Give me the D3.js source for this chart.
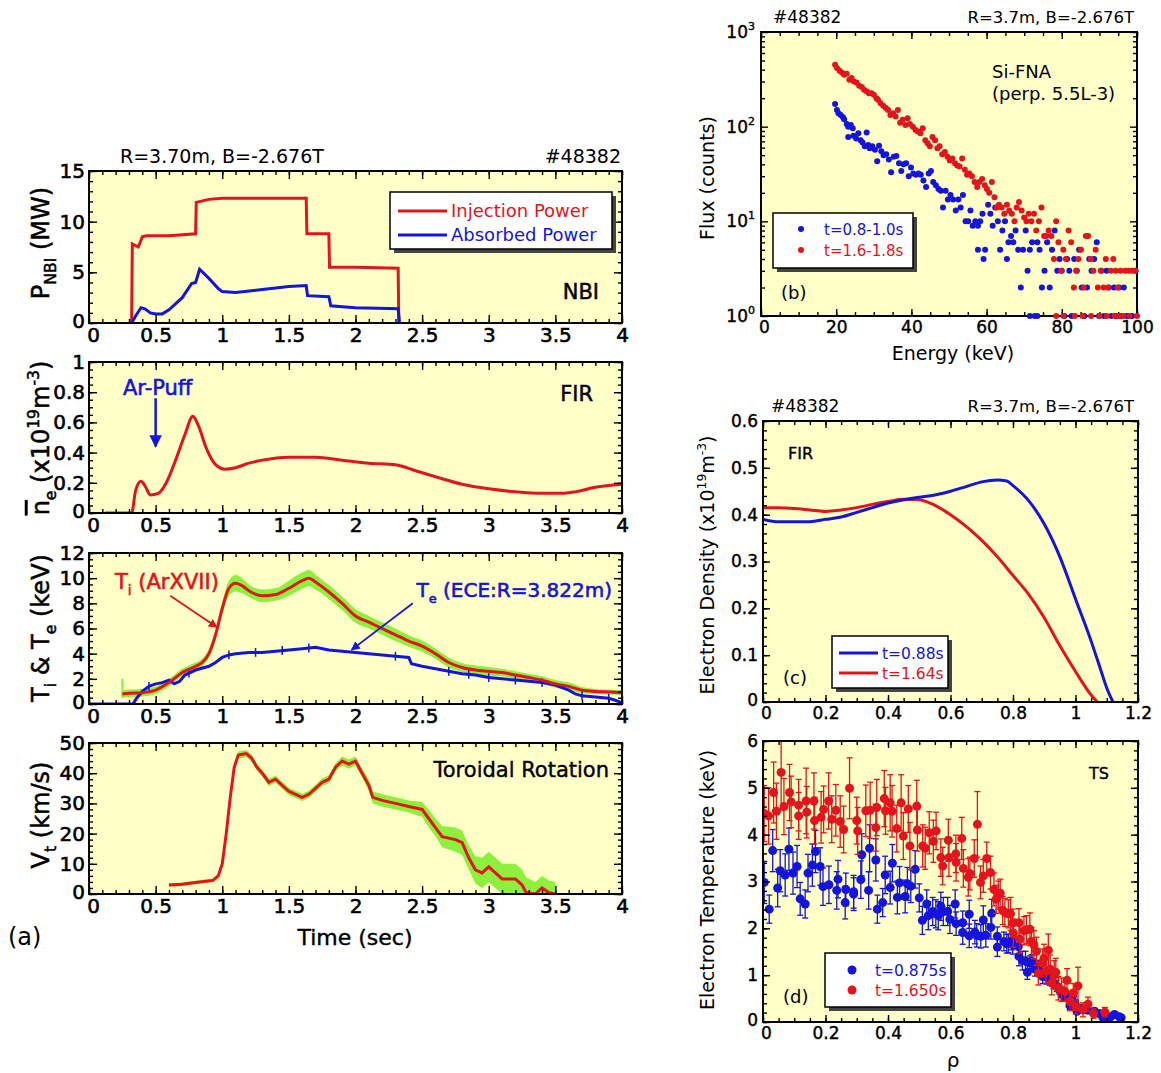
<!DOCTYPE html>
<html>
<head>
<meta charset="utf-8">
<script src="https://cdn.jsdelivr.net/npm/d3@7"></script>
<style>
body{margin:0;background:#fff;}
text{font-family:"DejaVu Sans",Verdana,sans-serif;}
</style>
</head>
<body>
<svg id="fig" width="1161" height="1073"></svg>
<script>
// ---- DATA ----
// (a) NBI power [time s, MW]
var injPower = [[0.32,0],[0.325,7.8],[0.37,7.5],[0.4,8.5],[0.43,8.6],[0.6,8.6],[0.8,8.8],[0.805,11.9],[0.9,12.2],[1.0,12.3],[1.63,12.3],[1.635,8.8],[1.8,8.8],[1.805,5.5],[2.0,5.5],[2.32,5.4],[2.325,0]];
var absPower = [[0.32,0],[0.35,0.7],[0.39,1.5],[0.42,1.4],[0.46,1.0],[0.5,0.9],[0.55,0.9],[0.6,1.3],[0.7,2.5],[0.77,3.9],[0.8,4.0],[0.83,5.3],[0.9,4.4],[0.97,3.4],[1.0,3.1],[1.1,3.0],[1.3,3.3],[1.5,3.6],[1.63,3.7],[1.64,2.7],[1.8,2.6],[1.815,1.7],[1.9,1.6],[2.0,1.5],[2.32,1.4],[2.33,0]];
// (a) line averaged density [time, 1e19 m^-3]
var neLine = [[0.12,0],[0.32,0],[0.35,0.15],[0.39,0.21],[0.42,0.18],[0.46,0.12],[0.52,0.13],[0.58,0.2],[0.65,0.35],[0.72,0.52],[0.78,0.64],[0.82,0.58],[0.88,0.43],[0.95,0.32],[1.02,0.29],[1.1,0.30],[1.2,0.33],[1.3,0.35],[1.5,0.37],[1.7,0.37],[1.9,0.35],[2.1,0.33],[2.3,0.32],[2.45,0.28],[2.6,0.24],[2.8,0.19],[3.0,0.16],[3.2,0.14],[3.4,0.13],[3.55,0.13],[3.65,0.14],[3.8,0.17],[4.0,0.19]];
// (a) Ti (ArXVII) [time, keV, error]
var tiArXVII = [[0.25,0.8,0.3],[0.3,0.85,0.3],[0.4,0.9,0.3],[0.5,1.1,0.3],[0.6,1.7,0.3],[0.7,2.5,0.3],[0.8,3.0,0.3],[0.85,3.3,0.3],[0.9,4.0,0.35],[0.95,5.5,0.4],[1.0,7.6,0.5],[1.05,9.2,0.6],[1.1,9.6,0.65],[1.15,9.4,0.6],[1.2,9.0,0.5],[1.3,8.6,0.5],[1.4,8.7,0.5],[1.5,9.2,0.6],[1.6,9.8,0.65],[1.65,10.0,0.65],[1.7,9.7,0.6],[1.8,8.9,0.55],[1.9,8.0,0.55],[2.0,7.0,0.55],[2.1,6.5,0.5],[2.2,6.0,0.5],[2.3,5.5,0.5],[2.4,5.0,0.45],[2.5,4.6,0.45],[2.6,4.0,0.4],[2.7,3.3,0.4],[2.8,2.9,0.35],[2.9,2.7,0.35],[3.0,2.6,0.35],[3.1,2.5,0.3],[3.2,2.3,0.3],[3.3,2.1,0.3],[3.4,1.9,0.3],[3.5,1.6,0.3],[3.6,1.4,0.3],[3.7,1.1,0.25],[3.8,1.0,0.2],[3.9,0.95,0.2],[4.0,0.9,0.2]];
// (a) Te (ECE) [time, keV]
var teECE = [[0,0],[0.33,0],[0.36,0.5],[0.4,1.0],[0.45,1.4],[0.5,1.6],[0.55,1.7],[0.6,1.9],[0.64,1.6],[0.68,1.8],[0.72,2.3],[0.8,2.7],[0.9,3.0],[0.95,3.3],[1.0,3.7],[1.05,3.9],[1.1,4.0],[1.2,4.1],[1.3,4.1],[1.4,4.2],[1.5,4.3],[1.6,4.4],[1.7,4.5],[1.8,4.3],[1.9,4.2],[2.0,4.1],[2.1,4.0],[2.2,3.9],[2.3,3.8],[2.4,3.7],[2.42,3.2],[2.5,3.0],[2.6,2.8],[2.7,2.6],[2.8,2.4],[2.9,2.3],[3.0,2.1],[3.1,2.0],[3.2,1.9],[3.3,1.8],[3.4,1.7],[3.5,1.5],[3.55,1.3],[3.6,1.1],[3.65,0.8],[3.7,0.65],[3.8,0.55],[3.9,0.45],[3.95,0.3],[4.0,0.1]];
// (a) small error ticks on the Te trace [time]
var teErrTimes = [0.45,0.75,1.05,1.25,1.45,1.65,2.3,2.7,2.85,3.0,3.2,3.4,3.7,3.9];
// (a) toroidal rotation [time, km/s, error]
var vtRot = [[0.6,3,0.6],[0.7,3.2,0.6],[0.8,3.8,0.6],[0.93,4.5,0.6],[0.97,6,0.8],[1.0,10,1],[1.03,20,1],[1.06,32,1],[1.09,42,1.2],[1.12,46,1.2],[1.18,46.5,1.2],[1.22,45,1.2],[1.26,42,1.2],[1.3,40,1.2],[1.35,37,1.2],[1.4,38,1.2],[1.45,36,1.2],[1.5,34,1.2],[1.55,33,1.2],[1.6,32,1.2],[1.65,33,1.2],[1.7,35,1.2],[1.75,37,1.3],[1.8,38,1.3],[1.85,42,1.3],[1.9,44,1.5],[1.95,43,1.5],[2.0,44,1.5],[2.05,40,1.5],[2.1,36,2],[2.13,32,2],[2.2,31,2],[2.3,30,2],[2.4,29,2],[2.5,28,2.5],[2.55,25,3],[2.6,22,3],[2.65,19,3.5],[2.75,18,4],[2.8,17,4],[2.85,12,4],[2.9,8,4.5],[2.95,7,5],[3.0,9,5],[3.05,7,5],[3.1,5,5],[3.2,5,5],[3.25,3,5],[3.28,0.5,5],[3.35,0,4],[3.4,2,4],[3.45,0.5,4],[3.5,0,4]];

// (b) Si-FNA flux [energy keV, counts]
var fnaEarly = [[19.7,174],[20.2,150],[20.6,139],[21.2,133],[21.8,126],[22.1,120],[22.8,107],[23.2,100],[23.9,104],[24.4,96],[23.2,78],[24.6,80],[25.3,75],[25.9,85],[26.5,72],[27,68],[27.6,62],[28.1,87],[28.5,64],[28.9,59],[29.6,62],[30.3,57],[30.9,43],[31.4,63],[32,55],[32.6,50],[33.3,51],[34,45],[34.6,33],[35.3,48],[36,49],[36.7,41],[37.3,34],[37.9,40],[38.6,41],[39.3,30],[39.9,37],[40.5,32],[41.2,31],[41.9,32],[42.5,31],[43.2,27],[43.9,23],[44.6,32],[45.2,34],[45.8,26],[46.5,24],[47.2,22],[47.8,21],[48.4,14],[49.1,21],[49.7,17],[50.4,19],[51.1,17],[51.8,13],[52.5,17],[53.1,14],[53.7,19],[54.4,10],[55.1,10],[55.7,13],[56.3,9],[57,10],[57.7,9],[58.3,10],[58.9,12],[57.7,5],[59.6,5],[59.2,4],[60.4,15],[61,12],[61.6,9],[62.3,14],[63,10],[63.6,5],[64.2,8],[64.9,10],[65.4,4],[65.8,6],[66.5,7],[67.1,6],[67.7,8],[68.4,5],[69.1,2],[69.7,5],[70.4,8],[70.9,3],[71.5,5],[71.5,1],[72.1,6],[72.8,1],[73.5,6],[73.5,1],[74.1,5],[74.7,2],[75.4,3],[76.1,6],[76.8,2],[77.4,5],[78.1,8],[78.8,3],[79.4,4],[80,3],[80.7,1],[81.4,4],[82,3],[82.6,1],[83.3,4],[84,3],[84.6,5],[85.3,2],[86,1],[86.7,2],[87.3,4],[87.9,3],[88.6,4],[89.3,6],[89.9,1],[90.5,3],[91.2,1],[91.9,3],[92.5,2],[93.2,1],[93.9,2],[94.6,1],[95.2,2],[95.8,1],[96.5,2],[97.2,1],[97.8,1],[98.7,1],[99.6,3]];
var fnaLate = [[19.7,451],[20.2,417],[20.9,390],[21.5,373],[22.1,354],[22.8,362],[23.5,313],[24.1,326],[24.7,300],[25.4,293],[26.1,270],[26.8,262],[27.4,246],[28.1,236],[28.7,226],[29.4,226],[30,217],[30.7,200],[31.1,192],[31.8,177],[32.5,166],[33.2,157],[33.8,150],[34.4,133],[35.1,139],[35.8,128],[36.4,150],[37,110],[37.7,118],[38.4,104],[39,123],[39.6,107],[40.4,100],[41.1,92],[41.7,89],[42.4,85],[43,96],[43.7,72],[44.3,67],[44.9,62],[45.6,78],[46.3,72],[46.9,59],[47.5,62],[48.2,51],[48.9,54],[49.6,48],[50.2,44],[50.9,46],[51.6,41],[52.2,39],[52.8,38],[53.5,46],[54.2,35],[54.8,31],[55.4,32],[56.1,30],[56.8,26],[57.5,23],[58.1,26],[58.8,28],[59.5,24],[60.1,22],[60.7,20],[61.4,26],[62.1,18],[62.7,14],[63.3,15],[64,14],[64.7,12],[65.4,15],[66,13],[66.7,12],[67.4,10],[68,14],[68.6,16],[69.3,13],[70,11],[70.6,10],[71.2,12],[71.9,10],[72.6,12],[73.2,8],[73.9,10],[74.6,14],[75.3,7],[75.9,7],[76.5,8],[77.2,7],[77.9,4],[78.5,10],[79.1,6],[79.8,3],[80.4,5],[81.1,4],[81.8,8],[82.5,6],[83.2,2],[83.8,3],[84.4,4],[85.1,5],[85.8,2],[86.4,7],[87,7],[87.7,4],[88.4,3],[89,5],[89.6,2],[90.4,3],[91.1,2],[91.7,4],[92.3,2],[93,3],[93.7,4],[94.3,3],[94.9,2],[95.6,3],[96.3,1],[96.9,3],[97.8,3],[98.7,3],[99.6,3],[78.5,1],[80.5,1],[83.5,1],[85.5,1],[87.8,1],[90,1],[92,1],[94,1],[95.2,1],[98,1],[100,1]];

// (c) FIR density profiles [rho, 1e19 m^-3]
var neProf088 = [[0,0.39],[0.05,0.385],[0.1,0.385],[0.15,0.385],[0.2,0.39],[0.25,0.395],[0.3,0.405],[0.35,0.415],[0.4,0.425],[0.45,0.432],[0.5,0.437],[0.55,0.442],[0.6,0.45],[0.65,0.46],[0.7,0.47],[0.75,0.474],[0.78,0.472],[0.8,0.462],[0.85,0.43],[0.9,0.38],[0.95,0.31],[1.0,0.22],[1.05,0.13],[1.08,0.07],[1.1,0.03],[1.12,0]];
var neProf164 = [[0,0.415],[0.05,0.415],[0.1,0.413],[0.15,0.41],[0.2,0.407],[0.25,0.41],[0.3,0.415],[0.35,0.422],[0.4,0.428],[0.45,0.433],[0.5,0.432],[0.55,0.42],[0.6,0.4],[0.65,0.375],[0.7,0.345],[0.75,0.31],[0.8,0.27],[0.85,0.23],[0.9,0.18],[0.95,0.12],[1.0,0.065],[1.05,0.015],[1.07,0]];

// (d) Thomson Te profiles [rho, keV, error]
var teTS0875 = [[0.004,2.98,0.45],[0.02,2.41,0.3],[0.031,3.66,0.45],[0.047,2.86,0.4],[0.055,3.23,0.45],[0.071,3.14,0.45],[0.083,3.69,0.45],[0.096,3.18,0.45],[0.109,3.32,0.45],[0.119,2.63,0.35],[0.135,2.52,0.3],[0.144,3.18,0.4],[0.158,3.35,0.45],[0.168,3.64,0.45],[0.183,3.32,0.4],[0.192,2.89,0.4],[0.211,2.93,0.4],[0.236,2.81,0.4],[0.24,3.05,0.4],[0.263,2.55,0.35],[0.265,2.83,0.35],[0.29,2.73,0.35],[0.29,2.78,0.35],[0.313,3.04,0.4],[0.316,3.57,0.45],[0.338,2.81,0.4],[0.341,3.71,0.5],[0.361,3.46,0.45],[0.366,2.41,0.3],[0.383,2.55,0.3],[0.391,3.14,0.4],[0.407,2.87,0.35],[0.414,3.39,0.4],[0.43,2.66,0.35],[0.437,2.97,0.35],[0.455,2.68,0.35],[0.462,2.95,0.35],[0.473,2.9,0.35],[0.487,3.26,0.4],[0.5,2.65,0.3],[0.51,2.17,0.3],[0.524,2.52,0.3],[0.529,2.27,0.3],[0.543,2.36,0.3],[0.553,2.31,0.3],[0.561,2.27,0.3],[0.569,2.47,0.3],[0.577,2.36,0.3],[0.591,2.36,0.3],[0.598,2.19,0.3],[0.615,2.52,0.3],[0.618,2.1,0.25],[0.639,2.12,0.25],[0.639,1.91,0.25],[0.66,2.3,0.3],[0.66,1.84,0.25],[0.678,1.92,0.25],[0.684,1.85,0.25],[0.697,1.83,0.25],[0.705,2.18,0.3],[0.713,1.85,0.25],[0.729,2.02,0.25],[0.732,2.32,0.3],[0.75,1.83,0.2],[0.75,1.6,0.2],[0.771,1.72,0.2],[0.78,1.67,0.2],[0.785,1.68,0.2],[0.796,1.74,0.2],[0.799,1.65,0.2],[0.817,1.61,0.2],[0.819,1.4,0.2],[0.83,1.31,0.2],[0.84,1.31,0.2],[0.846,1.06,0.15],[0.854,1.26,0.15],[0.86,1.29,0.15],[0.87,1.13,0.15],[0.881,1.17,0.15],[0.895,0.97,0.15],[0.907,0.96,0.15],[0.918,0.9,0.12],[0.929,0.83,0.12],[0.94,0.77,0.12],[0.948,0.7,0.1],[0.955,0.62,0.1],[0.963,0.56,0.1],[0.971,0.55,0.1],[0.982,0.35,0.08],[0.99,0.55,0.1],[0.998,0.4,0.08],[1.005,0.23,0.06],[1.014,0.3,0.06],[1.04,0.25,0.05],[1.061,0.23,0.05],[1.075,0.18,0.05],[1.088,0.09,0.04],[1.101,0.09,0.04],[1.112,0.11,0.04],[1.125,0.16,0.04],[1.14,0.11,0.04],[1.146,0.09,0.04]];
var teTS1650 = [[0.004,4.45,0.6],[0.018,4.4,0.6],[0.034,4.9,0.65],[0.043,4.5,0.6],[0.058,5.33,0.8],[0.067,4.6,0.6],[0.085,4.9,0.6],[0.09,4.7,0.55],[0.114,4.63,0.55],[0.114,4.4,0.5],[0.138,4.72,0.7],[0.14,4.48,0.55],[0.163,4.72,0.6],[0.165,4.3,0.5],[0.186,4.37,0.55],[0.194,4.54,0.5],[0.21,4.72,0.6],[0.22,4.33,0.5],[0.233,4.52,0.55],[0.247,4.28,0.55],[0.258,4.11,0.5],[0.277,4.99,0.65],[0.3,4.3,0.5],[0.303,4.08,0.5],[0.329,4.51,0.55],[0.343,4.52,0.6],[0.361,4.15,0.5],[0.364,4.58,0.6],[0.388,4.77,0.6],[0.392,4.51,0.5],[0.407,4.68,0.6],[0.413,4.5,0.55],[0.428,4.13,0.5],[0.442,4.68,0.6],[0.449,3.97,0.5],[0.465,4.55,0.5],[0.47,3.76,0.5],[0.492,4.61,0.55],[0.494,4.1,0.45],[0.511,3.76,0.45],[0.519,3.71,0.45],[0.532,4.04,0.45],[0.545,3.86,0.45],[0.554,4.08,0.4],[0.569,3.51,0.4],[0.575,3.33,0.4],[0.593,3.88,0.45],[0.595,3.51,0.4],[0.617,3.59,0.4],[0.618,3.41,0.4],[0.636,3.92,0.45],[0.641,3.28,0.4],[0.657,3.09,0.4],[0.662,3.17,0.35],[0.676,3.49,0.4],[0.686,4.22,0.7],[0.696,2.98,0.35],[0.705,3.12,0.35],[0.716,3.49,0.35],[0.728,3.19,0.35],[0.739,2.83,0.35],[0.746,2.62,0.3],[0.753,2.71,0.3],[0.759,2.75,0.3],[0.767,2.38,0.3],[0.774,2.34,0.3],[0.785,2.31,0.3],[0.792,2.31,0.35],[0.799,2.11,0.3],[0.801,1.9,0.3],[0.819,2.12,0.3],[0.822,1.77,0.3],[0.835,1.95,0.3],[0.843,1.97,0.3],[0.854,1.98,0.35],[0.859,1.72,0.3],[0.867,1.65,0.3],[0.875,1.51,0.3],[0.881,1.04,0.25],[0.895,1.26,0.3],[0.899,1.36,0.3],[0.906,1.08,0.25],[0.913,1.53,0.35],[0.919,1.13,0.3],[0.924,0.83,0.25],[0.932,1.01,0.3],[0.937,1.06,0.3],[0.945,0.72,0.25],[0.955,0.69,0.25],[0.966,0.65,0.2],[0.973,0.89,0.25],[0.982,0.44,0.2],[0.993,0.62,0.2],[1.001,0.32,0.15],[1.008,0.77,0.4],[1.024,0.26,0.15],[1.04,0.38,0.15],[1.058,0.18,0.1],[1.094,0.21,0.1]];

// tick values
var timeMajor = [0,0.5,1,1.5,2,2.5,3,3.5,4];
var rhoMajor = [0,0.2,0.4,0.6,0.8,1,1.2];
var energyMajor = [0,20,40,60,80,100];
var fluxMajor = [1,10,100,1000];

// ---- STYLE ----
var RED = '#e3141c', BLUE = '#1414dc', GREEN = '#8cf03c', BG = '#ffffc8';
var FONT = '"DejaVu Sans",Verdana,sans-serif';
var svg = d3.select('#fig');
var defs = svg.append('defs');

var P = {
  nbi: {x0:89,x1:622,y0:171,y1:323},
  fir: {x0:89,x1:622,y0:362,y1:513},
  tmp: {x0:89,x1:622,y0:553,y1:704},
  rot: {x0:89,x1:622,y0:743,y1:894},
  fna: {x0:761,x1:1137,y0:32,y1:316},
  den: {x0:763,x1:1138,y0:421,y1:702},
  ts:  {x0:763,x1:1138,y0:741,y1:1022}
};

function steps(a, b, s) { return d3.range(a, b + s / 2, s); }

function setup(name, p, x, y) {
  x.range([p.x0, p.x1]); y.range([p.y1, p.y0]);
  svg.append('rect').attr('x', p.x0).attr('y', p.y0)
    .attr('width', p.x1 - p.x0).attr('height', p.y1 - p.y0).attr('fill', BG);
  defs.append('clipPath').attr('id', 'c-' + name).append('rect')
    .attr('x', p.x0).attr('y', p.y0).attr('width', p.x1 - p.x0).attr('height', p.y1 - p.y0);
  return svg.append('g').attr('clip-path', 'url(#c-' + name + ')');
}

function frame(p, x, y, o) {
  var g = svg.append('g');
  var L = o.L || 8, l = o.l || 4;
  function put(axis, tx, ty, lab) {
    var a = g.append('g').attr('transform', 'translate(' + tx + ',' + ty + ')').call(axis);
    a.select('.domain').remove();
    a.attr('font-size', o.fs).attr('font-family', FONT);
    a.selectAll('line').attr('stroke-width', 1.4);
    if (lab) a.selectAll('text').attr('stroke', '#000').attr('stroke-width', o.sw || 0.6);
    return a;
  }
  var xf = o.xF || d3.format('~g'), yf = o.yF || d3.format('~g');
  var xl = put(d3.axisBottom(x).tickValues(o.xM).tickSizeInner(-L).tickSizeOuter(0).tickPadding(o.px || 5).tickFormat(xf), 0, p.y1, true);
  // keep the corner "0" of the x axis clear of the y axis "0"
  xl.selectAll('.tick text').filter(function(d, i) { return i === 0; }).attr('dx', o.dx0 || 4);
  put(d3.axisBottom(x).tickValues(o.xm).tickSizeInner(-l).tickSizeOuter(0).tickFormat(''), 0, p.y1);
  put(d3.axisTop(x).tickValues(o.xM).tickSizeInner(-L).tickSizeOuter(0).tickFormat(''), 0, p.y0);
  put(d3.axisTop(x).tickValues(o.xm).tickSizeInner(-l).tickSizeOuter(0).tickFormat(''), 0, p.y0);
  var yl = put(d3.axisLeft(y).tickValues(o.yM).tickSizeInner(-L).tickSizeOuter(0).tickPadding(o.py || 4).tickFormat(yf), p.x0, 0, true);
  yl.selectAll('.tick text').filter(function(d, i) { return i === 0; }).attr('dy', o.dyy0 || '0.2em');
  put(d3.axisLeft(y).tickValues(o.ym).tickSizeInner(-l).tickSizeOuter(0).tickFormat(''), p.x0, 0);
  put(d3.axisRight(y).tickValues(o.yM).tickSizeInner(-L).tickSizeOuter(0).tickFormat(''), p.x1, 0);
  put(d3.axisRight(y).tickValues(o.ym).tickSizeInner(-l).tickSizeOuter(0).tickFormat(''), p.x1, 0);
  g.append('rect').attr('x', p.x0).attr('y', p.y0).attr('width', p.x1 - p.x0).attr('height', p.y1 - p.y0)
    .attr('fill', 'none').attr('stroke', '#000').attr('stroke-width', 2);
  return yl;
}

function label(x, y, parts, o) {
  var t = svg.append('text').attr('x', x).attr('y', y).attr('font-size', o.fs)
    .attr('fill', o.fill || '#000').attr('text-anchor', o.anchor || 'start');
  if (o.rot) t.attr('transform', 'rotate(-90,' + x + ',' + y + ')');
  if (o.bold) t.attr('stroke', o.fill || '#000').attr('stroke-width', o.bold);
  var shift = 0;
  parts.forEach(function(pt) {
    var s = typeof pt === 'string' ? {t: pt} : pt;
    var target = s.sub ? o.fs * 0.28 : s.sup ? -o.fs * 0.42 : 0;
    var ts = t.append('tspan').attr('dy', target - shift).text(s.t);
    shift = target;
    if (s.sub || s.sup) ts.attr('font-size', o.fs * 0.65);
    if (s.over) ts.style('text-decoration', 'overline');
  });
  return t;
}

function marker(id, col) {
  defs.append('marker').attr('id', id).attr('viewBox', '0 0 10 10').attr('refX', 9).attr('refY', 5)
    .attr('markerWidth', 5).attr('markerHeight', 5).attr('orient', 'auto')
    .append('path').attr('d', 'M0,0L10,5L0,10z').attr('fill', col);
}
marker('arR', RED); marker('arB', BLUE);

function legendBox(x, y, w, h) {
  svg.append('rect').attr('x', x + 4).attr('y', y + 4).attr('width', w).attr('height', h).attr('fill', '#444');
  svg.append('rect').attr('x', x).attr('y', y).attr('width', w).attr('height', h)
    .attr('fill', '#fff').attr('stroke', '#000').attr('stroke-width', 1.5);
}

var lineGen = function(x, y) {
  return d3.line().x(function(d) { return x(d[0]); }).y(function(d) { return y(d[1]); });
};

var LFS = 20;   // left tick label size
var RFS = 17;   // right tick label size
var YLX = 49;   // baseline of rotated left y labels

// ===== (a1) NBI =====
var xT = d3.scaleLinear().domain([0, 4]);
var x1 = xT.copy(), y1 = d3.scaleLinear().domain([0, 15]);
var g1 = setup('nbi', P.nbi, x1, y1);
g1.append('path').datum(injPower).attr('d', lineGen(x1, y1)).attr('fill', 'none').attr('stroke', RED).attr('stroke-width', 3);
g1.append('path').datum(absPower).attr('d', lineGen(x1, y1)).attr('fill', 'none').attr('stroke', BLUE).attr('stroke-width', 3);
frame(P.nbi, x1, y1, {fs: LFS, xM: timeMajor, xm: steps(0, 4, 0.1), yM: [0, 5, 10, 15], ym: steps(0, 15, 1)});
legendBox(390, 192, 222, 57);
svg.append('line').attr('x1', 398).attr('x2', 447).attr('y1', 211).attr('y2', 211).attr('stroke', RED).attr('stroke-width', 3);
svg.append('line').attr('x1', 398).attr('x2', 447).attr('y1', 235).attr('y2', 235).attr('stroke', BLUE).attr('stroke-width', 3);
label(451, 217, ['Injection Power'], {fs: 18, fill: RED});
label(451, 241, ['Absorbed Power'], {fs: 18, fill: BLUE});
label(599, 299, ['NBI'], {fs: 21, anchor: 'end', bold: 0.5});
label(120, 163, ['R=3.70m, B=-2.676T'], {fs: 19});
label(621, 163, ['#48382'], {fs: 19, anchor: 'end'});
label(YLX, 243, ['P', {t: 'NBI', sub: 1}, '  (MW)'], {fs: 24, rot: 1, anchor: 'middle', bold: 0.5});

// ===== (a2) FIR =====
var x2 = xT.copy(), y2 = d3.scaleLinear().domain([0, 1]);
var g2 = setup('fir', P.fir, x2, y2);
g2.append('path').datum(neLine).attr('d', lineGen(x2, y2).curve(d3.curveMonotoneX)).attr('fill', 'none').attr('stroke', RED).attr('stroke-width', 3);
frame(P.fir, x2, y2, {fs: LFS, xM: timeMajor, xm: steps(0, 4, 0.1), yM: steps(0, 1, 0.2), ym: steps(0, 1, 0.05)});
label(593, 401, ['FIR'], {fs: 21, anchor: 'end', bold: 0.5});
label(123, 395, ['Ar-Puff'], {fs: 21, fill: BLUE, bold: 0.6});
svg.append('line').attr('x1', x2(0.5)).attr('x2', x2(0.5)).attr('y1', y2(0.76)).attr('y2', y2(0.44))
  .attr('stroke', BLUE).attr('stroke-width', 2.5).attr('marker-end', 'url(#arB)');
label(YLX, 438, [{t: 'n', over: 1}, {t: 'e', sub: 1}, ' (x10', {t: '19', sup: 1}, 'm', {t: '-3', sup: 1}, ')'], {fs: 24, rot: 1, anchor: 'middle', bold: 0.5});

// ===== (a3) Ti & Te =====
var x3 = xT.copy(), y3 = d3.scaleLinear().domain([0, 12]);
var g3 = setup('tmp', P.tmp, x3, y3);
g3.append('path').datum(tiArXVII)
  .attr('d', d3.area().curve(d3.curveMonotoneX).x(function(d) { return x3(d[0]); }).y0(function(d) { return y3(d[1] - d[2]); }).y1(function(d) { return y3(d[1] + d[2]); }))
  .attr('fill', GREEN);
g3.append('line').attr('x1', x3(tiArXVII[0][0])).attr('x2', x3(tiArXVII[0][0]))
  .attr('y1', y3(0.5)).attr('y2', y3(2)).attr('stroke', GREEN).attr('stroke-width', 2);
var teAt = function(t) { return d3.scaleLinear().domain(teECE.map(function(d) { return d[0]; })).range(teECE.map(function(d) { return d[1]; }))(t); };
g3.selectAll('.teErr').data(teErrTimes).enter().append('line')
  .attr('x1', function(d) { return x3(d); }).attr('x2', function(d) { return x3(d); })
  .attr('y1', function(d) { return y3(teAt(d) - 0.35); }).attr('y2', function(d) { return y3(teAt(d) + 0.35); })
  .attr('stroke', BLUE).attr('stroke-width', 1.5);
g3.append('path').datum(teECE).attr('d', lineGen(x3, y3)).attr('fill', 'none').attr('stroke', BLUE).attr('stroke-width', 3);
g3.append('path').datum(tiArXVII).attr('d', lineGen(x3, y3).curve(d3.curveMonotoneX)).attr('fill', 'none').attr('stroke', RED).attr('stroke-width', 3);
frame(P.tmp, x3, y3, {fs: LFS, xM: timeMajor, xm: steps(0, 4, 0.1), yM: steps(0, 12, 2), ym: steps(0, 12, 0.5)});
label(115, 589, ['T', {t: 'i', sub: 1}, ' (ArXVII)'], {fs: 21, fill: RED, bold: 0.6});
label(612, 597, ['T', {t: 'e', sub: 1}, ' (ECE:R=3.822m)'], {fs: 20, fill: BLUE, bold: 0.6, anchor: 'end'});
svg.append('line').attr('x1', x3(0.61)).attr('y1', y3(8.6)).attr('x2', x3(0.96)).attr('y2', y3(6.1))
  .attr('stroke', RED).attr('stroke-width', 1.8).attr('marker-end', 'url(#arR)');
svg.append('line').attr('x1', x3(2.43)).attr('y1', y3(8.0)).attr('x2', x3(1.97)).attr('y2', y3(4.3))
  .attr('stroke', BLUE).attr('stroke-width', 1.8).attr('marker-end', 'url(#arB)');
label(YLX, 628, ['T', {t: 'i', sub: 1}, ' & T', {t: 'e', sub: 1}, ' (keV)'], {fs: 24, rot: 1, anchor: 'middle', bold: 0.5});

// ===== (a4) toroidal rotation =====
var x4 = xT.copy(), y4 = d3.scaleLinear().domain([0, 50]);
var g4 = setup('rot', P.rot, x4, y4);
g4.append('path').datum(vtRot)
  .attr('d', d3.area().x(function(d) { return x4(d[0]); }).y0(function(d) { return y4(d[1] - d[2]); }).y1(function(d) { return y4(d[1] + d[2]); }))
  .attr('fill', GREEN);
g4.append('path').datum(vtRot).attr('d', lineGen(x4, y4)).attr('fill', 'none').attr('stroke', RED).attr('stroke-width', 3);
frame(P.rot, x4, y4, {fs: LFS, xM: timeMajor, xm: steps(0, 4, 0.1), yM: steps(0, 50, 10), ym: steps(0, 50, 2)});
label(609, 777, ['Toroidal Rotation'], {fs: 21, anchor: 'end', bold: 0.4});
label(YLX, 815, ['V', {t: 't', sub: 1}, ' (km/s)'], {fs: 24, rot: 1, anchor: 'middle', bold: 0.5});
label(355, 945, ['Time (sec)'], {fs: 22, anchor: 'middle', bold: 0.4});
label(8, 945, ['(a)'], {fs: 24});

// ===== (b) Si-FNA =====
var xb = d3.scaleLinear().domain([0, 100]), yb = d3.scaleLog().domain([1, 1000]);
setup('fna', P.fna, xb, yb);
var fnaMinor = [];
[1, 10, 100].forEach(function(dec) { d3.range(2, 10).forEach(function(k) { fnaMinor.push(k * dec); }); });
var ybl = frame(P.fna, xb, yb, {fs: RFS, L: 7, l: 4, sw: 0.4, dx0: 3, dyy0: '0.32em', xM: energyMajor, xm: steps(0, 100, 5), yM: fluxMajor, ym: fnaMinor, py: 6, yF: function() { return ''; }});
ybl.selectAll('.tick text').each(function(d) {
  var t = d3.select(this);
  t.append('tspan').text('10');
  t.append('tspan').attr('dy', -8).attr('font-size', 11).text(Math.round(Math.log10(d)));
});
var dotsB = svg.append('g');
dotsB.selectAll('.pe').data(fnaEarly).enter().append('circle')
  .attr('cx', function(d) { return xb(d[0]); }).attr('cy', function(d) { return yb(d[1]); }).attr('r', 3).attr('fill', BLUE);
dotsB.selectAll('.pl').data(fnaLate).enter().append('circle')
  .attr('cx', function(d) { return xb(d[0]); }).attr('cy', function(d) { return yb(d[1]); }).attr('r', 3).attr('fill', RED);
label(773, 23, ['#48382'], {fs: 17});
label(1134, 23, ['R=3.7m, B=-2.676T'], {fs: 16.5, anchor: 'end'});
label(992, 78, ['Si-FNA'], {fs: 18});
label(992, 100, ['(perp. 5.5L-3)'], {fs: 18});
legendBox(773, 213, 140, 55);
svg.append('circle').attr('cx', 801).attr('cy', 229).attr('r', 3).attr('fill', BLUE);
svg.append('circle').attr('cx', 801).attr('cy', 250).attr('r', 3).attr('fill', RED);
label(824, 235, ['t=0.8-1.0s'], {fs: 15, fill: BLUE});
label(824, 256, ['t=1.6-1.8s'], {fs: 15, fill: RED});
label(781, 299, ['(b)'], {fs: 18});
label(714, 178, ['Flux (counts)'], {fs: 19, rot: 1, anchor: 'middle'});
label(953, 360, ['Energy (keV)'], {fs: 19, anchor: 'middle'});

// ===== (c) density profiles =====
var xc = d3.scaleLinear().domain([0, 1.2]), yc = d3.scaleLinear().domain([0, 0.6]);
var gc = setup('den', P.den, xc, yc);
gc.append('path').datum(neProf164).attr('d', lineGen(xc, yc).curve(d3.curveMonotoneX)).attr('fill', 'none').attr('stroke', RED).attr('stroke-width', 3);
gc.append('path').datum(neProf088).attr('d', lineGen(xc, yc).curve(d3.curveMonotoneX)).attr('fill', 'none').attr('stroke', BLUE).attr('stroke-width', 3);
frame(P.den, xc, yc, {fs: RFS, L: 7, l: 4, sw: 0.4, dx0: 3, xM: rhoMajor, xm: steps(0, 1.2, 0.05), yM: steps(0, 0.6, 0.1), ym: steps(0, 0.6, 0.02), py: 5});
label(771, 412, ['#48382'], {fs: 17});
label(1134, 412, ['R=3.7m, B=-2.676T'], {fs: 16.5, anchor: 'end'});
label(788, 459, ['FIR'], {fs: 16, bold: 0.4});
legendBox(832, 636, 116, 52);
svg.append('line').attr('x1', 839).attr('x2', 878).attr('y1', 653).attr('y2', 653).attr('stroke', BLUE).attr('stroke-width', 3);
svg.append('line').attr('x1', 839).attr('x2', 878).attr('y1', 673).attr('y2', 673).attr('stroke', RED).attr('stroke-width', 3);
label(882, 659, ['t=0.88s'], {fs: 15.5, fill: BLUE});
label(882, 679, ['t=1.64s'], {fs: 15.5, fill: RED});
label(783, 684, ['(c)'], {fs: 18});
label(714, 565, ['Electron Density (x10', {t: '19', sup: 1}, 'm', {t: '-3', sup: 1}, ')'], {fs: 19, rot: 1, anchor: 'middle'});

// ===== (d) Thomson Te profiles =====
var xd = d3.scaleLinear().domain([0, 1.2]), yd = d3.scaleLinear().domain([0, 6]);
var gd = setup('ts', P.ts, xd, yd);
function tsSeries(data, col) {
  var s = gd.append('g');
  var e = s.selectAll('.e').data(data).enter().append('g').attr('stroke', col).attr('stroke-width', 1.3);
  e.append('line').attr('x1', function(d) { return xd(d[0]); }).attr('x2', function(d) { return xd(d[0]); })
    .attr('y1', function(d) { return yd(d[1] - d[2]); }).attr('y2', function(d) { return yd(d[1] + d[2]); });
  e.append('line').attr('x1', function(d) { return xd(d[0]) - 3; }).attr('x2', function(d) { return xd(d[0]) + 3; })
    .attr('y1', function(d) { return yd(d[1] + d[2]); }).attr('y2', function(d) { return yd(d[1] + d[2]); });
  e.append('line').attr('x1', function(d) { return xd(d[0]) - 3; }).attr('x2', function(d) { return xd(d[0]) + 3; })
    .attr('y1', function(d) { return yd(d[1] - d[2]); }).attr('y2', function(d) { return yd(d[1] - d[2]); });
  s.selectAll('circle').data(data).enter().append('circle')
    .attr('cx', function(d) { return xd(d[0]); }).attr('cy', function(d) { return yd(d[1]); }).attr('r', 4.5).attr('fill', col);
}
tsSeries(teTS0875, BLUE);
tsSeries(teTS1650, RED);
frame(P.ts, xd, yd, {fs: RFS, L: 7, l: 4, sw: 0.4, dx0: 3, xM: rhoMajor, xm: steps(0, 1.2, 0.05), yM: steps(0, 6, 1), ym: steps(0, 6, 0.2), py: 5});
label(1089, 779, ['TS'], {fs: 16, bold: 0.4});
legendBox(825, 953, 126, 54);
svg.append('circle').attr('cx', 852).attr('cy', 970).attr('r', 4.5).attr('fill', BLUE);
svg.append('circle').attr('cx', 852).attr('cy', 990).attr('r', 4.5).attr('fill', RED);
label(875, 976, ['t=0.875s'], {fs: 15.5, fill: BLUE});
label(875, 996, ['t=1.650s'], {fs: 15.5, fill: RED});
label(783, 1003, ['(d)'], {fs: 18});
label(714, 880, ['Electron Temperature (keV)'], {fs: 19, rot: 1, anchor: 'middle'});
label(953, 1067, ['\u03c1'], {fs: 20, anchor: 'middle'});
</script>
</body>
</html>
